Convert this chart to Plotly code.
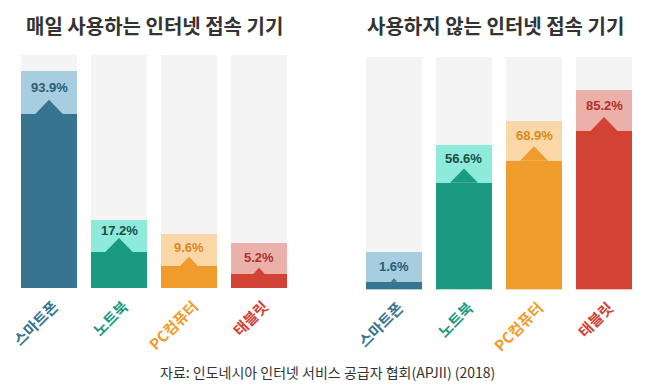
import plotly.graph_objects as go

# ---- data ----
categories = ["스마트폰", "노트북", "PC컴퓨터", "태블릿"]
daily_use = [93.9, 17.2, 9.6, 5.2]
not_used = [1.6, 56.6, 68.9, 85.2]
panel_titles = ["매일 사용하는 인터넷 접속 기기", "사용하지 않는 인터넷 접속 기기"]
source_text = "자료: 인도네시아 인터넷 서비스 공급자 협회(APJII) (2018)"

# ---- style ----
dark_colors = ["#36748f", "#1a9a80", "#f09c2c", "#d24334"]
light_colors = ["#a6cde0", "#8eeadb", "#fbd7a8", "#ecb0aa"]
label_colors = ["#2c5d73", "#1b4d42", "#d98a1f", "#b0312a"]
bg_color = "#f4f4f4"

PX_PER_UNIT = 1.94      # vertical pixels per percent unit
X_PX_PER_UNIT = 70      # horizontal pixels per category
Y_MAX = 120
LABEL_PAD = 18          # light label band above value
DARK_SCALE = 0.928
DARK_BASE = 2.6
TRI_MAX = 7.2
BAR_W = 0.8

# page body margin compensation
OFF = 8
W, H = 652 - OFF, 388 - OFF


def fx(x):
    return (x - OFF) / W


def fy(y):
    return 1 - (y - OFF) / H


fig = go.Figure()
xs = list(range(len(categories)))
annotations = []

for p, values in enumerate([daily_use, not_used]):
    xa = "x" if p == 0 else "x2"
    ya = "y" if p == 0 else "y2"
    fig.add_trace(go.Bar(x=xs, y=[Y_MAX] * len(xs), width=BAR_W, marker_color=bg_color,
                         marker_line_width=0, xaxis=xa, yaxis=ya, hoverinfo="skip"))
    light = [v + LABEL_PAD for v in values]
    fig.add_trace(go.Bar(x=xs, y=light, width=BAR_W, marker_color=light_colors,
                         marker_line_width=0, xaxis=xa, yaxis=ya, hoverinfo="skip"))
    dark = [v * DARK_SCALE + DARK_BASE for v in values]
    fig.add_trace(go.Bar(x=xs, y=dark, width=BAR_W, marker_color=dark_colors,
                         marker_line_width=0, xaxis=xa, yaxis=ya, hoverinfo="skip"))
    for i, v in enumerate(values):
        d = dark[i]
        th = min(TRI_MAX, 0.4 * d)
        hw = th * PX_PER_UNIT / X_PX_PER_UNIT
        fig.add_trace(go.Scatter(x=[i - hw, i, i + hw, i - hw], y=[d - 0.2, d + th, d - 0.2, d - 0.2],
                                 mode="lines", fill="toself", fillcolor=dark_colors[i],
                                 line=dict(width=0, color=dark_colors[i]),
                                 xaxis=xa, yaxis=ya, hoverinfo="skip"))
        annotations.append(dict(x=i, y=(light[i] + d + th) / 2, xref=xa, yref=ya,
                                text=f"<b>{v}%</b>", showarrow=False, yshift=-2,
                                xanchor="center", yanchor="middle",
                                font=dict(family="Liberation Sans, Arial", size=13,
                                          color=label_colors[i])))

ticktext = [f"<b><span style='color:{c}'>{t}</span></b>" for t, c in zip(categories, dark_colors)]

axis_x = dict(range=[-0.5, 3.5], tickvals=xs, ticktext=ticktext, tickangle=-45,
              showgrid=False, zeroline=False, showline=False, ticks="", automargin=False,
              ticklabeloverflow="allow", ticklabelstandoff=6, ticklabelshift=5,
              tickfont=dict(family="Noto Sans CJK KR", size=15))
fig.update_layout(
    xaxis=dict(domain=[fx(14), fx(294)], anchor="y", **axis_x),
    xaxis2=dict(domain=[fx(359), fx(639)], anchor="y2", **axis_x),
    yaxis=dict(domain=[fy(288), fy(55)], range=[0, Y_MAX], visible=False, automargin=False),
    yaxis2=dict(domain=[fy(289.3), fy(56.7)], range=[0, Y_MAX], visible=False, automargin=False),
)

for k, cx in enumerate([154, 495]):
    annotations.append(dict(x=fx(cx), y=fy(25), xref="paper", yref="paper",
                            xanchor="center", yanchor="middle",
                            text=f"<b>{panel_titles[k]}</b>", showarrow=False,
                            font=dict(family="Noto Sans CJK KR", size=20, color="#333333")))
annotations.append(dict(x=fx(327), y=fy(372), xref="paper", yref="paper",
                        xanchor="center", yanchor="middle",
                        text=source_text, showarrow=False,
                        font=dict(family="Noto Sans CJK KR", size=14, color="#333333")))

fig.update_layout(
    width=W, height=H, margin=dict(l=0, r=0, t=0, b=0, autoexpand=False),
    barmode="overlay", showlegend=False, bargap=0,
    plot_bgcolor="white", paper_bgcolor="white",
    annotations=annotations,
)

fig.write_html("out.html", config={"displayModeBar": False})
